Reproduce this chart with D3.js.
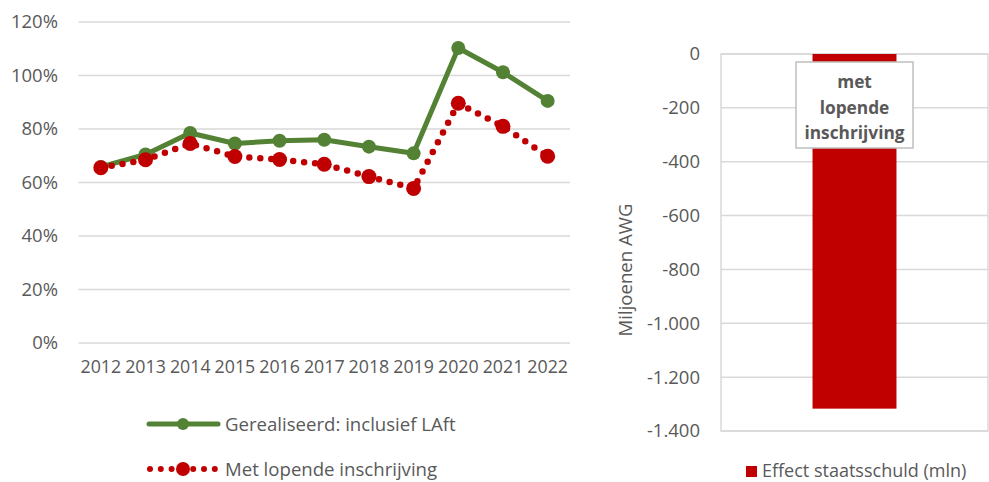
<!DOCTYPE html>
<html><head><meta charset="utf-8">
<script src="https://cdn.jsdelivr.net/npm/d3@7"></script>
<style>body{margin:0;background:#fff}svg{display:block}text{font-family:"Open Sans",sans-serif;fill:#595959}</style>
</head><body>
<svg id="c" width="989" height="482"></svg>
<script>
const years = ["2012","2013","2014","2015","2016","2017","2018","2019","2020","2021","2022"];
const gerealiseerd = [65.8,70.5,78.5,74.6,75.6,76.0,73.4,70.9,110.3,101.2,90.5];
const lopende = [65.5,68.5,74.6,69.7,68.6,66.8,62.2,57.8,89.6,81.0,69.8];
const pctTicks = [0,20,40,60,80,100,120];
const barCats = ["met lopende inschrijving"];
const barValues = [-1317];
const barTicks = [0,-200,-400,-600,-800,-1000,-1200,-1400];
const green = "#548235", red = "#C00000", grid = "#d9d9d9";

const svg = d3.select("#c");
// ---- left chart
const x0 = 78.5, x1 = 570;
const x = d3.scaleBand().domain(years).range([x0,x1]);
const y = d3.scaleLinear().domain([0,120]).range([343,22]);
const L = svg.append("g");
L.selectAll(".g").data(pctTicks).join("line")
  .attr("x1",x0).attr("x2",x1).attr("y1",d=>y(d)).attr("y2",d=>y(d))
  .attr("stroke",grid).attr("stroke-width",1.5);
const ya = L.append("g").attr("transform","translate(58,0)")
  .call(d3.axisLeft(y).tickValues(pctTicks).tickFormat(d=>d+"%").tickSize(0).tickPadding(0));
ya.select(".domain").remove();
ya.selectAll("text").attr("font-size",18.5).attr("fill","#595959").style("font-family","Open Sans");
const xa = L.append("g").attr("transform","translate(0,343)")
  .call(d3.axisBottom(x).tickSize(0).tickPadding(17));
xa.select(".domain").remove();
xa.selectAll("text").attr("font-size",17.8).attr("fill","#595959").style("font-family","Open Sans");

const cx = d => x(d) + x.bandwidth()/2;
const line = d3.line().x((d,i)=>cx(years[i])).y(d=>y(d));
L.append("path").datum(gerealiseerd).attr("d",line).attr("fill","none")
  .attr("stroke",green).attr("stroke-width",5).attr("stroke-linejoin","round");
L.selectAll(".gm").data(gerealiseerd).join("circle")
  .attr("cx",(d,i)=>cx(years[i])).attr("cy",d=>y(d)).attr("r",7).attr("fill",green);
L.append("path").datum(lopende).attr("d",line).attr("fill","none")
  .attr("stroke",red).attr("stroke-width",6.5).attr("stroke-linecap","round").attr("stroke-dasharray","0 11");
L.selectAll(".rm").data(lopende).join("circle")
  .attr("cx",(d,i)=>cx(years[i])).attr("cy",d=>y(d)).attr("r",7.5).attr("fill",red);

// legend left
L.append("line").attr("x1",149).attr("x2",218).attr("y1",424).attr("y2",424)
  .attr("stroke",green).attr("stroke-width",5).attr("stroke-linecap","round");
L.append("circle").attr("cx",183).attr("cy",424).attr("r",6).attr("fill",green);
L.append("text").attr("x",225).attr("y",430.5).attr("font-size",18.6).text("Gerealiseerd: inclusief LAft");
L.append("line").attr("x1",150).attr("x2",215).attr("y1",469).attr("y2",469)
  .attr("stroke",red).attr("stroke-width",6).attr("stroke-linecap","round").attr("stroke-dasharray","0 10.8");
L.append("circle").attr("cx",183).attr("cy",469).attr("r",7).attr("fill",red);
L.append("text").attr("x",225).attr("y",475.5).attr("font-size",18.6).text("Met lopende inschrijving");

// ---- right chart
const yb = d3.scaleLinear().domain([-1400,0]).range([431,54]);
const xb = d3.scaleBand().domain(barCats).range([721,988]).paddingInner(0).paddingOuter(1.09);
const R = svg.append("g");
R.selectAll(".bg").data(barTicks).join("line")
  .attr("x1",721).attr("x2",988).attr("y1",d=>yb(d)).attr("y2",d=>yb(d))
  .attr("stroke",grid).attr("stroke-width",1.5);
R.append("rect").attr("x",721).attr("y",54).attr("width",267).attr("height",377)
  .attr("fill","none").attr("stroke",grid).attr("stroke-width",1.5);
const fmt = d => d3.format(",")(d).replace(/,/g,".").replace("−","-");
const yba = R.append("g").attr("transform","translate(700,0)")
  .call(d3.axisLeft(yb).tickValues(barTicks).tickFormat(fmt).tickSize(0).tickPadding(0));
yba.select(".domain").remove();
yba.selectAll("text").attr("font-size",18.5).attr("fill","#595959").style("font-family","Open Sans");
R.append("text").attr("transform","translate(632,270) rotate(-90)").attr("text-anchor","middle")
  .attr("font-size",18.6).text("Miljoenen AWG");
R.selectAll(".bar").data(barValues).join("rect")
  .attr("x",(d,i)=>xb(barCats[i])).attr("width",xb.bandwidth())
  .attr("y",d=>yb(0)).attr("height",d=>yb(d)-yb(0)).attr("fill",red);
// data label
const bx = xb(barCats[0]) + xb.bandwidth()/2;
R.append("rect").attr("x",bx-58.5).attr("y",62).attr("width",117).attr("height",86)
  .attr("fill","#fff").attr("stroke","#bfbfbf").attr("stroke-width",1.5);
["met","lopende","inschrijving"].forEach((t,i)=>{
  R.append("text").attr("x",bx).attr("y",88+i*25.5).attr("text-anchor","middle")
   .attr("font-size",17.3).attr("font-weight","bold").text(t);
});
// legend right
R.append("rect").attr("x",746).attr("y",466).attr("width",11).attr("height",11).attr("fill",red);
R.append("text").attr("x",762).attr("y",477).attr("font-size",18).text("Effect staatsschuld (mln)");
</script>
</body></html>
